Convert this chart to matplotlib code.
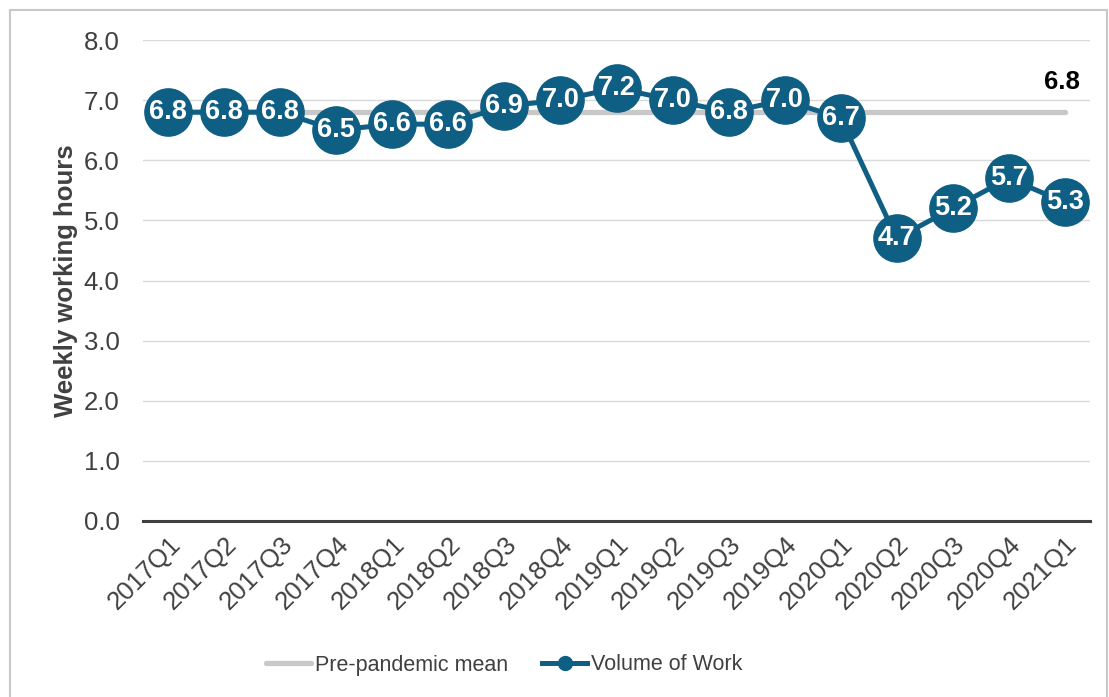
import matplotlib
matplotlib.use("Agg")
import matplotlib.pyplot as plt
from matplotlib.patches import Rectangle

plt.rcParams['font.family'] = ['Liberation Sans', 'DejaVu Sans']

quarters = ["2017Q1", "2017Q2", "2017Q3", "2017Q4", "2018Q1", "2018Q2", "2018Q3", "2018Q4",
            "2019Q1", "2019Q2", "2019Q3", "2019Q4", "2020Q1", "2020Q2", "2020Q3", "2020Q4", "2021Q1"]
volume = [6.8, 6.8, 6.8, 6.5, 6.6, 6.6, 6.9, 7.0, 7.2, 7.0, 6.8, 7.0, 6.7, 4.7, 5.2, 5.7, 5.3]
pre_mean_value = 6.8
pre_mean = [pre_mean_value] * len(quarters)
yticks = [0.0, 1.0, 2.0, 3.0, 4.0, 5.0, 6.0, 7.0, 8.0]

W, H = 1109, 697
fig = plt.figure(figsize=(W / 100, H / 100), dpi=100)
ax = fig.add_axes([143 / W, 1 - 521 / H, (1090 - 143) / W, (521 - 40) / H])

blue = "#0f5f84"
gray = "#c8c8c8"
txt = "#404040"

x = list(range(len(quarters)))
ax.plot(x, pre_mean, color=gray, lw=3.8, solid_capstyle='round', label="Pre-pandemic mean", zorder=2)
ax.plot(x, volume, color=blue, lw=3.6, marker='o', markersize=34, markeredgecolor=blue,
        label="Volume of Work", zorder=3)
for xi, v in zip(x, volume):
    ax.text(xi, v, f"{v:.1f}", color="white", fontsize=19.5, fontweight='bold',
            ha='center', va='center', zorder=4)
ax.text(x[-1] - 0.05, pre_mean_value + 0.3, f"{pre_mean_value:.1f}", color="black", fontsize=18.5,
        fontweight='bold', ha='center', va='bottom', zorder=4)

ax.set_xlim(-0.45, len(quarters) - 0.55)
ax.set_ylim(0, 8)
ax.set_yticks(yticks)
ax.set_yticklabels([f"{t:.1f}" for t in yticks])
ax.set_xticks(x)
ax.set_xticklabels(quarters, rotation=45, ha='right', rotation_mode='anchor')
ax.tick_params(axis='both', length=0, labelsize=18.5, labelcolor=txt)
ax.tick_params(axis='y', pad=17)
ax.tick_params(axis='x', pad=8)
ax.grid(axis='y', color="#d9d9d9", lw=1)
ax.set_axisbelow(True)
for s in ['top', 'right', 'left']:
    ax.spines[s].set_visible(False)
ax.spines['bottom'].set_color(txt)
ax.spines['bottom'].set_linewidth(2.2)
ax.spines['bottom'].set_zorder(1)

ax.set_ylabel("Weekly working hours", fontsize=18.5, fontweight='bold', color=txt, labelpad=4)

h1 = plt.Line2D([], [], color=gray, lw=3.8, solid_capstyle='round')
h2 = plt.Line2D([], [], color=blue, lw=3.6, marker='o', markersize=10)
fig.legend([h1, h2], ["Pre-pandemic mean", "Volume of Work"], loc='center',
           bbox_to_anchor=(504 / W, 1 - 665 / H), ncol=2, frameon=False, fontsize=15.5,
           handlelength=2.1, handletextpad=0.15, columnspacing=1.6, labelcolor=txt)

fig.patches.append(Rectangle((10 / W, -0.05), (1107 - 10) / W, (H - 10) / H + 0.05,
                             transform=fig.transFigure, fill=False, edgecolor="#c8c8c8", lw=1.5))

fig.savefig("out.png", dpi=100)
